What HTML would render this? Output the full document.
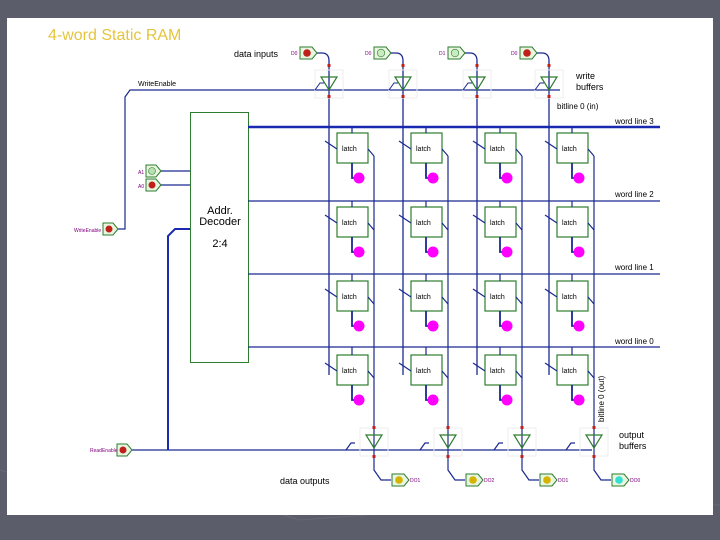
<!DOCTYPE html>
<html><head><style>
html,body{margin:0;padding:0;background:#5b5d6b;}
svg{display:block;}
text{font-family:"Liberation Sans",sans-serif;}
</style></head><body>
<svg width="720" height="540" viewBox="0 0 720 540" xmlns="http://www.w3.org/2000/svg">
<rect x="0" y="0" width="720" height="540" fill="#5b5d6b"/>
<path d="M0 470 L120 505 L200 490 L300 520 L560 500 L720 505" stroke="#676977" fill="none"/>
<rect x="7" y="18" width="706" height="497" fill="#ffffff"/>
<text x="48" y="40" font-size="16" fill="#e6c43c">4-word Static RAM</text>
<text x="234" y="57" font-size="9" fill="#000">data inputs</text>
<text x="576" y="79" font-size="9" fill="#000">write</text>
<text x="576" y="90" font-size="9" fill="#000">buffers</text>
<text x="557" y="109" font-size="8" fill="#000">bitline 0 (in)</text>
<text x="138" y="86" font-size="7" fill="#000">WriteEnable</text>
<text x="615" y="124" font-size="8" fill="#000">word line 3</text>
<text x="615" y="197" font-size="8" fill="#000">word line 2</text>
<text x="615" y="270" font-size="8" fill="#000">word line 1</text>
<text x="615" y="344" font-size="8" fill="#000">word line 0</text>
<text x="619" y="438" font-size="9" fill="#000">output</text>
<text x="619" y="449" font-size="9" fill="#000">buffers</text>
<text x="280" y="484" font-size="9" fill="#000">data outputs</text>
<text transform="translate(604,422) rotate(-90)" font-size="8" fill="#000">bitline 0 (out)</text>

<!-- decoder -->
<rect x="190.5" y="112.5" width="58" height="250" fill="none" stroke="#2e7d2e" stroke-width="1"/>
<text x="220" y="214" font-size="11" text-anchor="middle" fill="#000">Addr.</text>
<text x="220" y="225" font-size="11" text-anchor="middle" fill="#000">Decoder</text>
<text x="220" y="247" font-size="11" text-anchor="middle" fill="#000">2:4</text>

<!-- wordlines -->
<line x1="248" y1="127" x2="660" y2="127" stroke="#1a2ab0" stroke-width="2.5"/>
<line x1="248" y1="201" x2="660" y2="201" stroke="#1a2a90" stroke-width="1.2"/>
<line x1="248" y1="274" x2="660" y2="274" stroke="#1a2a90" stroke-width="1.2"/>
<line x1="248" y1="347" x2="660" y2="347" stroke="#1a2a90" stroke-width="1.2"/>

<!-- write enable -->
<path d="M560 90 L130 90 L125 97 L125 229 L118 229" stroke="#1a2a90" stroke-width="1.2" fill="none"/>
<path d="M103 223 h10 l5 6 l-5 6 h-10 z" fill="#e8f5e0" stroke="#2e7d2e"/><circle cx="109" cy="229" r="3.5" fill="#c0201a"/>
<text x="74" y="232" font-size="5" fill="#800080">WriteEnable</text>

<!-- address inputs -->
<path d="M146 165 h10 l5 6 l-5 6 h-10 z" fill="#e8f5e0" stroke="#2e7d2e"/><circle cx="152" cy="171" r="3.5" fill="#b8e0b0" stroke="#2e7d2e" stroke-width="0.6"/>
<path d="M146 179 h10 l5 6 l-5 6 h-10 z" fill="#e8f5e0" stroke="#2e7d2e"/><circle cx="152" cy="185" r="3.5" fill="#c0201a"/>
<text x="138" y="174" font-size="5" fill="#800080">A1</text>
<text x="138" y="188" font-size="5" fill="#800080">A0</text>
<line x1="161" y1="171" x2="190" y2="171" stroke="#1a2a90" stroke-width="1.2"/>
<line x1="161" y1="185" x2="190" y2="185" stroke="#1a2a90" stroke-width="1.2"/>

<!-- output enable -->
<path d="M168 450 L168 236 L175 229 L190 229" stroke="#1a2ab0" stroke-width="2" fill="none"/>
<line x1="132" y1="450" x2="592" y2="450" stroke="#1a2a90" stroke-width="1.2"/>
<path d="M117 444 h10 l5 6 l-5 6 h-10 z" fill="#e8f5e0" stroke="#2e7d2e"/><circle cx="123" cy="450" r="3.5" fill="#c0201a"/>
<text x="90" y="452" font-size="5" fill="#800080">ReadEnable</text>

<!-- column template repeated -->
<g id="c1" transform="translate(329,0)">
<path d="M-29 47 h12 l5 6 l-5 6 h-12 z" fill="#e8f5e0" stroke="#2e7d2e"/><circle cx="-22" cy="53" r="3.8" fill="#c0201a"/>
<text x="-38" y="55" font-size="5" fill="#800080">D0</text>
<path d="M-12 53 h5 q7 0 7 8 V375" stroke="#1a2a90" stroke-width="1.3" fill="none"/>
<rect x="-14" y="70" width="28" height="28" fill="none" stroke="#eee"/>
<path d="M-8 77 h16 l-8 13 z" fill="none" stroke="#2e7d2e" stroke-width="1.2"/>
<path d="M-14 90 l5 -7 h4" stroke="#1a2a90" fill="none"/>
<rect x="-1.5" y="64" width="3" height="3" fill="#c0201a"/><rect x="-1.5" y="95" width="3" height="3" fill="#c0201a"/>
<g fill="none" stroke="#2e7d2e" stroke-width="1.2">
<rect x="8" y="133" width="31" height="30"/><rect x="8" y="207" width="31" height="30"/><rect x="8" y="281" width="31" height="30"/><rect x="8" y="355" width="31" height="30"/>
</g>
<g font-size="7" fill="#000"><text x="13" y="151">latch</text><text x="13" y="225">latch</text><text x="13" y="299">latch</text><text x="13" y="373">latch</text></g>
<g stroke="#1a2a90" stroke-width="1.2" fill="none">
<path d="M23 127 V133 M23 201 V207 M23 274 V281 M23 347 V355"/>
<path d="M-4 141 l12 8 M-4 215 l12 8 M-4 289 l12 8 M-4 363 l12 8"/>
<path d="M39 149 l6 7 M39 223 l6 7 M39 297 l6 7 M39 371 l6 7"/>
<path d="M45 156 V470 l7 10 h10"/>
<path d="M23 163 V178 h5 M23 237 V252 h5 M23 311 V326 h5 M23 385 V400 h5" stroke-width="1.8"/>
<path d="M17 450 l5 -7 h4"/>
</g>
<g fill="#ff00ff"><circle cx="30" cy="178" r="5.5"/><circle cx="30" cy="252" r="5.5"/><circle cx="30" cy="326" r="5.5"/><circle cx="30" cy="400" r="5.5"/></g>
<rect x="31" y="428" width="28" height="28" fill="none" stroke="#eee"/>
<path d="M37 435 h16 l-8 13 z" fill="none" stroke="#2e7d2e" stroke-width="1.2"/>
<rect x="43.5" y="426" width="3" height="3" fill="#c0201a"/><rect x="43.5" y="455" width="3" height="3" fill="#c0201a"/>
<path d="M63 474 h12 l5 6 l-5 6 h-12 z" fill="#e8f5e0" stroke="#2e7d2e"/><circle cx="70" cy="480" r="3.8" fill="#d4b400"/>
<text x="81" y="482" font-size="5" fill="#800080">DO1</text>
</g>
<g transform="translate(403,0)">
<path d="M-29 47 h12 l5 6 l-5 6 h-12 z" fill="#e8f5e0" stroke="#2e7d2e"/><circle cx="-22" cy="53" r="3.8" fill="#c8ecc0" stroke="#2e7d2e" stroke-width="0.6"/>
<text x="-38" y="55" font-size="5" fill="#800080">D0</text>
<path d="M-12 53 h5 q7 0 7 8 V375" stroke="#1a2a90" stroke-width="1.3" fill="none"/>
<rect x="-14" y="70" width="28" height="28" fill="none" stroke="#eee"/>
<path d="M-8 77 h16 l-8 13 z" fill="none" stroke="#2e7d2e" stroke-width="1.2"/>
<path d="M-14 90 l5 -7 h4" stroke="#1a2a90" fill="none"/>
<rect x="-1.5" y="64" width="3" height="3" fill="#c0201a"/><rect x="-1.5" y="95" width="3" height="3" fill="#c0201a"/>
<g fill="none" stroke="#2e7d2e" stroke-width="1.2">
<rect x="8" y="133" width="31" height="30"/><rect x="8" y="207" width="31" height="30"/><rect x="8" y="281" width="31" height="30"/><rect x="8" y="355" width="31" height="30"/>
</g>
<g font-size="7" fill="#000"><text x="13" y="151">latch</text><text x="13" y="225">latch</text><text x="13" y="299">latch</text><text x="13" y="373">latch</text></g>
<g stroke="#1a2a90" stroke-width="1.2" fill="none">
<path d="M23 127 V133 M23 201 V207 M23 274 V281 M23 347 V355"/>
<path d="M-4 141 l12 8 M-4 215 l12 8 M-4 289 l12 8 M-4 363 l12 8"/>
<path d="M39 149 l6 7 M39 223 l6 7 M39 297 l6 7 M39 371 l6 7"/>
<path d="M45 156 V470 l7 10 h10"/>
<path d="M23 163 V178 h5 M23 237 V252 h5 M23 311 V326 h5 M23 385 V400 h5" stroke-width="1.8"/>
<path d="M17 450 l5 -7 h4"/>
</g>
<g fill="#ff00ff"><circle cx="30" cy="178" r="5.5"/><circle cx="30" cy="252" r="5.5"/><circle cx="30" cy="326" r="5.5"/><circle cx="30" cy="400" r="5.5"/></g>
<rect x="31" y="428" width="28" height="28" fill="none" stroke="#eee"/>
<path d="M37 435 h16 l-8 13 z" fill="none" stroke="#2e7d2e" stroke-width="1.2"/>
<rect x="43.5" y="426" width="3" height="3" fill="#c0201a"/><rect x="43.5" y="455" width="3" height="3" fill="#c0201a"/>
<path d="M63 474 h12 l5 6 l-5 6 h-12 z" fill="#e8f5e0" stroke="#2e7d2e"/><circle cx="70" cy="480" r="3.8" fill="#d4b400"/>
<text x="81" y="482" font-size="5" fill="#800080">DO2</text>
</g>
<g transform="translate(477,0)">
<path d="M-29 47 h12 l5 6 l-5 6 h-12 z" fill="#e8f5e0" stroke="#2e7d2e"/><circle cx="-22" cy="53" r="3.8" fill="#c8ecc0" stroke="#2e7d2e" stroke-width="0.6"/>
<text x="-38" y="55" font-size="5" fill="#800080">D1</text>
<path d="M-12 53 h5 q7 0 7 8 V375" stroke="#1a2a90" stroke-width="1.3" fill="none"/>
<rect x="-14" y="70" width="28" height="28" fill="none" stroke="#eee"/>
<path d="M-8 77 h16 l-8 13 z" fill="none" stroke="#2e7d2e" stroke-width="1.2"/>
<path d="M-14 90 l5 -7 h4" stroke="#1a2a90" fill="none"/>
<rect x="-1.5" y="64" width="3" height="3" fill="#c0201a"/><rect x="-1.5" y="95" width="3" height="3" fill="#c0201a"/>
<g fill="none" stroke="#2e7d2e" stroke-width="1.2">
<rect x="8" y="133" width="31" height="30"/><rect x="8" y="207" width="31" height="30"/><rect x="8" y="281" width="31" height="30"/><rect x="8" y="355" width="31" height="30"/>
</g>
<g font-size="7" fill="#000"><text x="13" y="151">latch</text><text x="13" y="225">latch</text><text x="13" y="299">latch</text><text x="13" y="373">latch</text></g>
<g stroke="#1a2a90" stroke-width="1.2" fill="none">
<path d="M23 127 V133 M23 201 V207 M23 274 V281 M23 347 V355"/>
<path d="M-4 141 l12 8 M-4 215 l12 8 M-4 289 l12 8 M-4 363 l12 8"/>
<path d="M39 149 l6 7 M39 223 l6 7 M39 297 l6 7 M39 371 l6 7"/>
<path d="M45 156 V470 l7 10 h10"/>
<path d="M23 163 V178 h5 M23 237 V252 h5 M23 311 V326 h5 M23 385 V400 h5" stroke-width="1.8"/>
<path d="M17 450 l5 -7 h4"/>
</g>
<g fill="#ff00ff"><circle cx="30" cy="178" r="5.5"/><circle cx="30" cy="252" r="5.5"/><circle cx="30" cy="326" r="5.5"/><circle cx="30" cy="400" r="5.5"/></g>
<rect x="31" y="428" width="28" height="28" fill="none" stroke="#eee"/>
<path d="M37 435 h16 l-8 13 z" fill="none" stroke="#2e7d2e" stroke-width="1.2"/>
<rect x="43.5" y="426" width="3" height="3" fill="#c0201a"/><rect x="43.5" y="455" width="3" height="3" fill="#c0201a"/>
<path d="M63 474 h12 l5 6 l-5 6 h-12 z" fill="#e8f5e0" stroke="#2e7d2e"/><circle cx="70" cy="480" r="3.8" fill="#d4b400"/>
<text x="81" y="482" font-size="5" fill="#800080">DO1</text>
</g>
<g transform="translate(549,0)">
<path d="M-29 47 h12 l5 6 l-5 6 h-12 z" fill="#e8f5e0" stroke="#2e7d2e"/><circle cx="-22" cy="53" r="3.8" fill="#c0201a"/>
<text x="-38" y="55" font-size="5" fill="#800080">D0</text>
<path d="M-12 53 h5 q7 0 7 8 V375" stroke="#1a2a90" stroke-width="1.3" fill="none"/>
<rect x="-14" y="70" width="28" height="28" fill="none" stroke="#eee"/>
<path d="M-8 77 h16 l-8 13 z" fill="none" stroke="#2e7d2e" stroke-width="1.2"/>
<path d="M-14 90 l5 -7 h4" stroke="#1a2a90" fill="none"/>
<rect x="-1.5" y="64" width="3" height="3" fill="#c0201a"/><rect x="-1.5" y="95" width="3" height="3" fill="#c0201a"/>
<g fill="none" stroke="#2e7d2e" stroke-width="1.2">
<rect x="8" y="133" width="31" height="30"/><rect x="8" y="207" width="31" height="30"/><rect x="8" y="281" width="31" height="30"/><rect x="8" y="355" width="31" height="30"/>
</g>
<g font-size="7" fill="#000"><text x="13" y="151">latch</text><text x="13" y="225">latch</text><text x="13" y="299">latch</text><text x="13" y="373">latch</text></g>
<g stroke="#1a2a90" stroke-width="1.2" fill="none">
<path d="M23 127 V133 M23 201 V207 M23 274 V281 M23 347 V355"/>
<path d="M-4 141 l12 8 M-4 215 l12 8 M-4 289 l12 8 M-4 363 l12 8"/>
<path d="M39 149 l6 7 M39 223 l6 7 M39 297 l6 7 M39 371 l6 7"/>
<path d="M45 156 V470 l7 10 h10"/>
<path d="M23 163 V178 h5 M23 237 V252 h5 M23 311 V326 h5 M23 385 V400 h5" stroke-width="1.8"/>
<path d="M17 450 l5 -7 h4"/>
</g>
<g fill="#ff00ff"><circle cx="30" cy="178" r="5.5"/><circle cx="30" cy="252" r="5.5"/><circle cx="30" cy="326" r="5.5"/><circle cx="30" cy="400" r="5.5"/></g>
<rect x="31" y="428" width="28" height="28" fill="none" stroke="#eee"/>
<path d="M37 435 h16 l-8 13 z" fill="none" stroke="#2e7d2e" stroke-width="1.2"/>
<rect x="43.5" y="426" width="3" height="3" fill="#c0201a"/><rect x="43.5" y="455" width="3" height="3" fill="#c0201a"/>
<path d="M63 474 h12 l5 6 l-5 6 h-12 z" fill="#e8f5e0" stroke="#2e7d2e"/><circle cx="70" cy="480" r="3.8" fill="#30e0d0"/>
<text x="81" y="482" font-size="5" fill="#800080">DO0</text>
</g>
</svg>
</body></html>
